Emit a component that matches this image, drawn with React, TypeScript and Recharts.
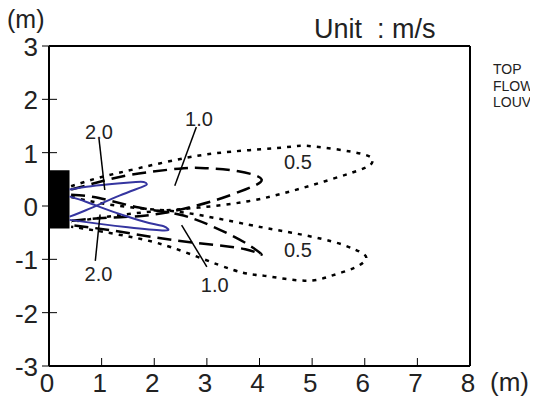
import React from "react";
import {
  ComposedChart,
  Line,
  XAxis,
  YAxis,
  ReferenceArea,
  ReferenceLine,
  ReferenceDot,
} from "recharts";

// axis ticks
const X_TICKS = [0, 1, 2, 3, 4, 5, 6, 7, 8];
const Y_TICKS = [-3, -2, -1, 0, 1, 2, 3];

// louver outlet block (x from, x to, y from, y to)
const LOUVER = [0, 0.39, -0.42, 0.67];

// 2.0 m/s contour (two lobes)
const V20_UP = [
  [0.39, 0.31], [0.8, 0.37], [1.3, 0.42], [1.65, 0.45], [1.8, 0.45], [1.86, 0.41],
  [1.75, 0.35], [1.35, 0.2], [1.0, 0.05], [0.7, -0.08], [0.39, -0.2],
];
const V20_DOWN = [
  [0.39, 0.18], [0.7, 0.08], [1.0, -0.03], [1.4, -0.17], [1.9, -0.32],
  [2.18, -0.38], [2.26, -0.43], [2.15, -0.46], [1.5, -0.4], [1.0, -0.34], [0.39, -0.26],
];

// 1.0 m/s contour
const V10_UP = [
  [0.42, 0.31], [0.95, 0.45], [1.58, 0.59], [2.47, 0.7], [2.97, 0.71],
  [3.6, 0.65], [4.04, 0.5], [3.73, 0.31], [3.1, 0.09], [2.34, -0.1],
  [1.71, -0.19], [0.95, -0.23], [0.42, -0.28],
];
const V10_DOWN = [
  [0.42, 0.21], [0.95, 0.15], [1.71, -0.03], [2.47, -0.16], [3.1, -0.38],
  [3.73, -0.69], [4.04, -0.91], [3.73, -0.81], [2.85, -0.7], [1.9, -0.57],
  [1.14, -0.45], [0.42, -0.36],
];

// 0.5 m/s contour
const V05_UP = [
  [0.42, 0.37], [0.95, 0.53], [1.71, 0.71], [2.59, 0.9], [3.47, 1.02],
  [4.48, 1.1], [5.0, 1.12], [5.93, 0.98], [6.15, 0.84], [5.99, 0.71],
  [5.36, 0.5], [4.61, 0.28], [3.79, 0.09], [2.84, -0.03], [2.0, -0.1],
  [1.2, -0.19], [0.42, -0.3],
];
const V05_DOWN = [
  [0.42, 0.17], [1.0, 0.05], [1.8, -0.05], [2.62, -0.13], [3.79, -0.35],
  [4.61, -0.5], [5.36, -0.66], [5.8, -0.81], [6.03, -0.97], [5.8, -1.16],
  [5.36, -1.31], [4.86, -1.4], [4.1, -1.31], [3.47, -1.19], [2.34, -0.78],
  [1.4, -0.55], [0.64, -0.42], [0.42, -0.39],
];

// value labels and their leader lines
const LABELS: [string, number, number][] = [
  ["2.0", 0.95, 1.39],
  ["2.0", 0.94, -1.28],
  ["1.0", 2.85, 1.63],
  ["1.0", 3.15, -1.47],
  ["0.5", 4.73, 0.83],
  ["0.5", 4.73, -0.83],
];
const LEADERS = [
  [[0.95, 1.26], [1.06, 0.3]],
  [[0.88, -1.03], [0.97, -0.16]],
  [[2.8, 1.48], [2.39, 0.38]],
  [[2.52, -0.36], [3.0, -1.14]],
];

const FONT = "'Liberation Sans', Arial, sans-serif";
const TXT = "#222";

const pts = (arr: number[][]) => arr.map(([x, y]) => ({ x, y }));

const XTick = (props: any) => {
  const { x, y, payload } = props;
  return (
    <g>
      <line x1={x} y1={y} x2={x} y2={y - 8} stroke="#000" strokeWidth={1} />
      <text x={x - 2} y={y + 26} textAnchor="middle" fontSize={26} fontFamily={FONT} fill={TXT}>
        {payload.value}
      </text>
    </g>
  );
};

const YTick = (props: any) => {
  const { x, y, payload } = props;
  return (
    <g>
      <line x1={x - 7} y1={y} x2={x + 8} y2={y} stroke="#000" strokeWidth={1} />
      <text x={x - 11} y={y + 10} textAnchor="end" fontSize={26} fontFamily={FONT} fill={TXT}>
        {payload.value}
      </text>
    </g>
  );
};

const lineProps = {
  dataKey: "y",
  type: "natural" as const,
  dot: false,
  activeDot: false,
  isAnimationActive: false,
  legendType: "none" as const,
};

export default function App() {
  return (
    <div style={{ position: "relative", width: 530, height: 393, fontFamily: FONT }}>
      <ComposedChart
        width={530}
        height={393}
        margin={{ top: 38, right: 68, left: 0, bottom: 5 }}
      >
        <XAxis
          type="number"
          dataKey="x"
          domain={[0, 8]}
          ticks={X_TICKS}
          interval={0}
          tickSize={0}
          tickMargin={0}
          tickLine={false}
          height={30}
          axisLine={{ stroke: "#000", strokeWidth: 2 }}
          tick={<XTick />}
          allowDataOverflow
        />
        <YAxis
          type="number"
          dataKey="y"
          domain={[-3, 3]}
          ticks={Y_TICKS}
          interval={0}
          tickSize={0}
          tickMargin={0}
          tickLine={false}
          width={41}
          axisLine={{ stroke: "#000", strokeWidth: 2 }}
          tick={<YTick />}
          allowDataOverflow
        />
        <ReferenceLine y={3} stroke="#000" strokeWidth={2} />
        <ReferenceLine x={8} stroke="#000" strokeWidth={2} />

        <Line {...lineProps} data={pts(V05_UP)} stroke="#000" strokeWidth={2.5} strokeDasharray="4 6" />
        <Line {...lineProps} data={pts(V05_DOWN)} stroke="#000" strokeWidth={2.5} strokeDasharray="4 6" />
        <Line {...lineProps} data={pts(V10_UP)} stroke="#000" strokeWidth={2.5} strokeDasharray="14 7" />
        <Line {...lineProps} data={pts(V10_DOWN)} stroke="#000" strokeWidth={2.5} strokeDasharray="14 7" />
        <Line {...lineProps} data={pts(V20_UP)} stroke="#3535a0" strokeWidth={2} />
        <Line {...lineProps} data={pts(V20_DOWN)} stroke="#3535a0" strokeWidth={2} />

        <ReferenceArea
          x1={LOUVER[0]}
          x2={LOUVER[1]}
          y1={LOUVER[2]}
          y2={LOUVER[3]}
          fill="#000"
          fillOpacity={1}
          stroke="none"
        />

        {LEADERS.map((seg, i) => (
          <ReferenceLine
            key={`lead-${i}`}
            segment={[
              { x: seg[0][0], y: seg[0][1] },
              { x: seg[1][0], y: seg[1][1] },
            ]}
            stroke="#000"
            strokeWidth={1.5}
          />
        ))}
        {LABELS.map(([t, x, y], i) => (
          <ReferenceDot
            key={`lab-${i}`}
            x={x}
            y={y}
            r={0}
            stroke="none"
            fill="none"
            label={{ value: t, position: "center", fontSize: 20, fill: TXT, fontFamily: FONT }}
          />
        ))}
      </ComposedChart>

      <div style={{ position: "absolute", left: -1, top: -1, fontSize: 25, lineHeight: "25px", color: TXT }}>
        (m)
      </div>
      <div
        style={{ position: "absolute", left: 306, top: 8, fontSize: 27, lineHeight: "27px", color: TXT, whiteSpace: "pre" }}
      >
        {"Unit  : m/s"}
      </div>
      <div
        style={{ position: "absolute", left: 485, top: 53, fontSize: 14, lineHeight: "16.5px", color: TXT, whiteSpace: "pre" }}
      >
        {"TOP\nFLOW\nLOUVER"}
      </div>
      <div style={{ position: "absolute", left: 482, top: 361, fontSize: 26, lineHeight: "26px", color: TXT }}>
        (m)
      </div>
    </div>
  );
}
